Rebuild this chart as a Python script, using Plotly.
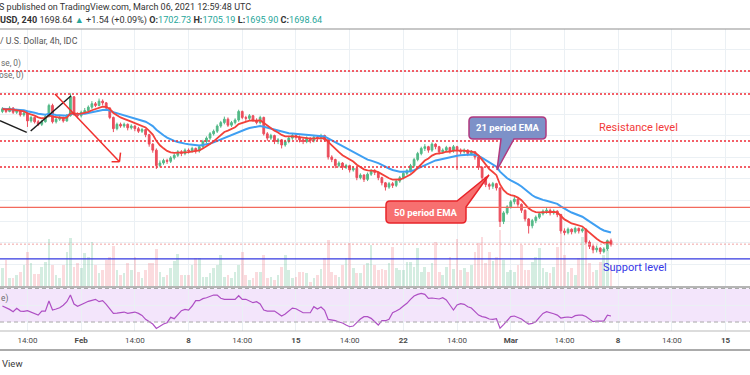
import plotly.graph_objects as go
import pandas as pd

# ---------------- data (XAUUSD 4h) ----------------
closes = [1856, 1853, 1857, 1852, 1854, 1849, 1851, 1842, 1846, 1841,
          1838, 1841, 1847, 1860, 1841, 1844, 1846, 1842, 1848, 1870,
          1850, 1848, 1852, 1854, 1858, 1862, 1860, 1865, 1863, 1857,
          1846, 1833, 1838, 1836, 1838, 1834, 1836, 1833, 1830, 1832,
          1826, 1815, 1808, 1790, 1793, 1796, 1795, 1799, 1802, 1806,
          1804, 1808, 1807, 1810, 1807, 1812, 1818, 1822, 1827, 1830,
          1836, 1840, 1844, 1837, 1840, 1843, 1853, 1846, 1845, 1848,
          1843, 1840, 1846, 1827, 1822, 1825, 1818, 1820, 1814, 1818,
          1822, 1825, 1823, 1820, 1818, 1822, 1819, 1823, 1822, 1825,
          1820, 1800, 1797, 1790, 1793, 1788, 1790, 1785, 1787, 1776,
          1779, 1774, 1780, 1784, 1782, 1776, 1770, 1765, 1769, 1767,
          1772, 1776, 1781, 1784, 1790, 1797, 1804, 1810, 1812, 1808,
          1815, 1812, 1806, 1808, 1811, 1807, 1812, 1808, 1806, 1808,
          1804, 1806, 1800, 1788, 1776, 1768, 1766, 1769, 1764, 1725,
          1735, 1742, 1748, 1751, 1745, 1738, 1728, 1720, 1726, 1730,
          1734, 1737, 1738, 1735, 1737, 1733, 1714, 1712, 1716, 1713,
          1717, 1714, 1716, 1701, 1696, 1692, 1694, 1690, 1693, 1702.73,
          1698.64]
opens = [1853, 1856, 1853, 1857, 1852, 1854, 1849, 1851, 1842, 1846,
         1841, 1838, 1841, 1847, 1860, 1841, 1844, 1846, 1842, 1848,
         1870, 1850, 1848, 1852, 1854, 1858, 1862, 1860, 1865, 1863,
         1857, 1846, 1833, 1838, 1836, 1838, 1834, 1836, 1833, 1830,
         1832, 1826, 1815, 1808, 1790, 1793, 1796, 1795, 1799, 1802,
         1806, 1804, 1808, 1807, 1810, 1807, 1812, 1818, 1822, 1827,
         1830, 1836, 1840, 1844, 1837, 1840, 1843, 1853, 1846, 1845,
         1848, 1843, 1840, 1846, 1827, 1822, 1825, 1818, 1820, 1814,
         1818, 1822, 1825, 1823, 1820, 1818, 1822, 1819, 1823, 1822,
         1825, 1820, 1800, 1797, 1790, 1793, 1788, 1790, 1785, 1787,
         1776, 1779, 1774, 1780, 1784, 1782, 1776, 1770, 1765, 1769,
         1767, 1772, 1776, 1781, 1784, 1790, 1797, 1804, 1810, 1812,
         1808, 1815, 1812, 1806, 1808, 1811, 1807, 1812, 1808, 1806,
         1808, 1804, 1806, 1800, 1788, 1776, 1768, 1766, 1769, 1764,
         1725, 1735, 1742, 1748, 1751, 1745, 1738, 1728, 1720, 1726,
         1730, 1734, 1737, 1738, 1735, 1737, 1733, 1714, 1712, 1716,
         1713, 1717, 1714, 1716, 1701, 1696, 1692, 1694, 1690, 1693,
         1702.73]
highs = [1858, 1857, 1859, 1858, 1856, 1855, 1853, 1852, 1848, 1847,
         1843, 1843, 1849, 1862, 1862, 1846, 1848, 1847, 1850, 1874,
         1871, 1852, 1854, 1857, 1860, 1865, 1864, 1868, 1867, 1864,
         1858, 1847, 1840, 1840, 1840, 1839, 1838, 1837, 1835, 1834,
         1833, 1827, 1816, 1810, 1796, 1798, 1798, 1801, 1804, 1808,
         1808, 1810, 1810, 1812, 1811, 1814, 1820, 1824, 1829, 1832,
         1838, 1842, 1847, 1846, 1842, 1845, 1855, 1854, 1848, 1850,
         1849, 1845, 1848, 1847, 1829, 1827, 1826, 1822, 1821, 1820,
         1824, 1827, 1827, 1825, 1822, 1824, 1823, 1825, 1825, 1827,
         1826, 1821, 1802, 1798, 1795, 1794, 1792, 1791, 1789, 1788,
         1781, 1780, 1782, 1786, 1786, 1783, 1777, 1771, 1771, 1771,
         1774, 1778, 1783, 1786, 1792, 1799, 1806, 1812, 1815, 1813,
         1817, 1816, 1813, 1810, 1813, 1812, 1814, 1813, 1810, 1810,
         1809, 1808, 1807, 1801, 1789, 1777, 1770, 1771, 1770, 1765,
         1737, 1744, 1750, 1754, 1752, 1746, 1739, 1729, 1728, 1732,
         1736, 1739, 1741, 1740, 1739, 1738, 1734, 1717, 1718, 1717,
         1719, 1718, 1718, 1717, 1703, 1698, 1697, 1695, 1695, 1704,
         1705.19]
lows = [1851, 1851, 1852, 1850, 1850, 1847, 1847, 1835, 1840, 1839,
        1836, 1836, 1840, 1846, 1839, 1839, 1842, 1840, 1841, 1847,
        1848, 1845, 1846, 1850, 1852, 1856, 1858, 1859, 1860, 1855,
        1844, 1829, 1831, 1834, 1834, 1831, 1832, 1830, 1828, 1828,
        1823, 1812, 1805, 1786, 1788, 1791, 1792, 1793, 1797, 1800,
        1801, 1802, 1804, 1805, 1804, 1805, 1810, 1816, 1820, 1825,
        1828, 1834, 1838, 1835, 1835, 1838, 1841, 1844, 1842, 1843,
        1841, 1838, 1838, 1825, 1819, 1820, 1815, 1815, 1810, 1812,
        1816, 1820, 1820, 1817, 1815, 1816, 1816, 1817, 1819, 1820,
        1818, 1797, 1794, 1787, 1788, 1785, 1786, 1782, 1783, 1773,
        1774, 1771, 1772, 1778, 1779, 1773, 1767, 1761, 1763, 1764,
        1765, 1770, 1774, 1779, 1782, 1788, 1795, 1802, 1807, 1805,
        1806, 1809, 1803, 1804, 1806, 1804, 1805, 1785, 1803, 1804,
        1801, 1802, 1797, 1785, 1773, 1765, 1762, 1763, 1761, 1718.6,
        1722, 1733, 1740, 1745, 1742, 1735, 1725, 1711, 1717, 1723,
        1728, 1732, 1734, 1732, 1733, 1730, 1711, 1709, 1710, 1710,
        1711, 1711, 1712, 1699, 1693, 1688, 1689, 1687, 1688, 1691,
        1695.90]
volumes = [1900, 2700, 900, 900, 1200, 1500, 2200, 3500, 2400, 1300,
           1300, 2000, 2500, 4800, 2200, 1200, 900, 2200, 3500, 4900,
           2000, 2400, 1900, 3400, 3000, 4500, 2200, 1400, 1700, 2700,
           3000, 4100, 1700, 1200, 1400, 2400, 1700, 3000, 1500, 900,
           1700, 2400, 2400, 3800, 1500, 1000, 1200, 1900, 2600, 3300,
           1200, 1200, 1200, 2200, 2900, 2900, 1000, 1000, 1400, 1900,
           2200, 3200, 1000, 1200, 900, 1500, 2200, 3500, 1200, 700,
           900, 1500, 1500, 3200, 900, 1000, 700, 1200, 2000, 3200,
           1700, 900, 1000, 1500, 1500, 1400, 500, 900, 1200, 1800,
           2900, 4700, 1500, 1200, 1000, 2200, 2900, 4400, 1900, 1400,
           1400, 2200, 2400, 4200, 2200,
           1700, 1800, 1700, 2400, 4000, 1900, 1700, 1700, 2500, 2500, 2000,
           3900, 1500, 2000, 1500, 2400, 4500, 1500, 1200, 2000, 3000, 1800,
           4800, 1700, 1900, 1500, 2200, 3500, 4400, 5000, 2400, 3500, 2600,
           3000, 5700, 2700, 1500, 1700, 1500, 2200, 4200, 1700, 1700,
           2500, 3000, 3900, 1900, 1500, 1400, 2000, 4000, 5400, 3200,
           1500, 1900, 1200, 2900, 5000, 4400, 2400, 1500, 1700, 2500,
           3200, 3700, 2200]
rsi_values = [49.1, 47.5, 45.1, 42.3, 46.3, 43.1, 42.7, 43.5, 41.5, 40.3,
              38.3, 43.1, 43.0, 55.1, 44.3, 45.5, 47.1, 50.0, 54.3, 62.2,
              51.5, 48.7, 50.3, 52.7, 54.7, 55.9, 57.1, 54.3, 55.5, 51.1,
              45.5, 40.3, 40.7, 41.5, 41.9, 40.3, 41.5, 41.9, 40.3, 37.9,
              33.2, 30.0, 27.6, 22.4, 25.2, 27.6, 29.2, 35.6, 34.0, 38.3,
              43.5, 45.1, 44.3, 49.1, 55.5, 55.5, 57.9, 59.0, 60.2, 62.2,
              62.2, 58.3, 57.1, 57.1, 57.9, 57.1, 61.4, 57.1, 57.1, 55.1,
              53.1, 54.3, 51.5, 44.3, 43.1, 43.1, 43.1, 40.3, 37.2, 39.5,
              43.1, 46.7, 45.9, 43.1, 41.1, 41.1, 41.1, 48.3, 45.5, 47.9,
              44.0, 33.2, 32.8, 31.6, 30.0, 28.8, 26.4, 24.4, 25.2, 30.0,
              33.6, 36.4, 36.4, 34.4, 30.8, 26.4, 31.6, 31.6, 33.2, 41.1,
              43.1, 45.5, 49.1, 52.3, 57.1, 61.0, 63.0, 64.2, 63.0, 58.3,
              58.7, 58.3, 57.5, 59.0, 56.3, 50.3, 44.3, 50.3, 51.9, 51.1,
              48.3, 46.7, 42.3, 38.3, 36.4, 35.6, 33.6, 33.2, 34.0, 22.6,
              27.0, 31.6, 36.4, 37.2, 35.6, 33.6, 30.4, 27.6, 28.4, 30.4,
              35.6, 40.3, 42.3, 41.5, 39.9, 38.3, 34.8, 35.6, 36.0, 35.2,
              37.6, 38.3, 38.3, 36.7, 33.2, 30.4, 31.2, 31.6, 31.2, 38.3,
              37.2]
tick_bars = [7, 22, 37, 52, 67, 82, 97, 112, 127, 142, 157, 172, 187, 202]
tick_labels = ["14:00", "<b>Feb</b>", "14:00", "<b>8</b>", "14:00", "<b>15</b>",
               "14:00", "<b>22</b>", "14:00", "<b>Mar</b>", "14:00", "<b>8</b>",
               "14:00", "<b>15</b>"]
resistance_levels = [1900.0, 1873.3, 1818.6, 1788.4]
mid_level = 1741.5
support_level = 1681.4
price_grid = [1675, 1700, 1725, 1750, 1775, 1800, 1825, 1850, 1875, 1900, 1925]
# user drawings (bar index, price)
black_lines = [((-0.7, 1842.2), (6.8, 1828.7)), ((7.9, 1830.2), (19.2, 1871.3))]
red_arrow = ((14.7, 1873.3), (32.7, 1794.5))
red_arrow_head = [(30.5, 1794.5), (33.0, 1805.0)]

# ---------------- derived ----------------
bars = list(range(len(closes)))
ema_fast = pd.Series(closes).ewm(span=9, adjust=False).mean().tolist()
ema_slow = pd.Series(closes).ewm(span=21, adjust=False).mean().tolist()
GREEN, RED = "#53b987", "#eb4d5c"
vol_colors = ["rgba(83,185,135,0.25)" if c >= o else "rgba(235,77,92,0.20)"
              for o, c in zip(opens, closes)]

W, H = 750, 375
def px(x):
    return x / W
def py(y):
    return 1 - y / H

PRICE_DOM = [py(287), py(29)]
RSI_DOM = [py(331), py(287)]
XR = [-0.67, 208.83]
GRID = "#ebf0f4"
FONT = "Roboto"

fig = go.Figure()
fig.add_trace(go.Bar(x=bars, y=volumes, marker=dict(color=vol_colors, line=dict(width=0)),
                     width=0.75, xaxis="x", yaxis="y", showlegend=False))
fig.add_trace(go.Candlestick(x=bars, open=opens, high=highs, low=lows, close=closes,
                             increasing=dict(line=dict(color=GREEN, width=1), fillcolor=GREEN),
                             decreasing=dict(line=dict(color=RED, width=1), fillcolor=RED),
                             xaxis="x", yaxis="y2", showlegend=False))
fig.add_trace(go.Scatter(x=bars, y=ema_slow, mode="lines", line=dict(color="#3f9ff2", width=2),
                         xaxis="x", yaxis="y2", showlegend=False))
fig.add_trace(go.Scatter(x=bars, y=ema_fast, mode="lines", line=dict(color="#f2413a", width=1.8),
                         xaxis="x", yaxis="y2", showlegend=False))
fig.add_trace(go.Scatter(x=bars, y=rsi_values, mode="lines", line=dict(color="#ae4fc4", width=1.2),
                         xaxis="x2", yaxis="y3", showlegend=False))

shapes = []
# RSI band
shapes.append(dict(type="rect", xref="paper", yref="y3", x0=0, x1=1, y0=30, y1=70,
                   fillcolor="#f3e5fb", line=dict(width=0), layer="below"))
for lv in (30, 70):
    shapes.append(dict(type="line", xref="paper", yref="y3", x0=0, x1=1, y0=lv, y1=lv,
                       line=dict(color="#a9a9a9", width=1, dash="4px,3px")))
# level lines
for lv in resistance_levels:
    shapes.append(dict(type="line", xref="paper", yref="y2", x0=0, x1=1, y0=lv, y1=lv,
                       line=dict(color="#f02b36", width=1.6, dash="2px,2px"), layer="above"))
shapes.append(dict(type="line", xref="paper", yref="y2", x0=0, x1=1, y0=mid_level, y1=mid_level,
                   line=dict(color="#f26a5c", width=1.2), layer="above"))
shapes.append(dict(type="line", xref="paper", yref="y2", x0=0, x1=1, y0=closes[-1], y1=closes[-1],
                   line=dict(color="#f2a3a3", width=1, dash="2px,2px"), layer="above"))
shapes.append(dict(type="line", xref="paper", yref="y2", x0=0, x1=1, y0=support_level, y1=support_level,
                   line=dict(color="#3438e0", width=1.3), layer="above"))
# drawings
for (a, b) in black_lines:
    shapes.append(dict(type="line", xref="x", yref="y2", x0=a[0], y0=a[1], x1=b[0], y1=b[1],
                       line=dict(color="#1f1f1f", width=1.5)))
shapes.append(dict(type="line", xref="x", yref="y2", x0=red_arrow[0][0], y0=red_arrow[0][1],
                   x1=red_arrow[1][0], y1=red_arrow[1][1], line=dict(color="#f0302e", width=1.5)))
for hx, hy in red_arrow_head:
    shapes.append(dict(type="line", xref="x", yref="y2", x0=red_arrow[1][0], y0=red_arrow[1][1],
                       x1=hx, y1=hy, line=dict(color="#f0302e", width=1.5)))
# frame lines
for yy, col, wd in ((29, "#8f8f8f", 1.2), (287, "#b5b5b5", 2), (331, "#b9b9b9", 1), (350, "#8f8f8f", 1.5)):
    shapes.append(dict(type="line", xref="paper", yref="paper", x0=0, x1=1, y0=py(yy), y1=py(yy),
                       line=dict(color=col, width=wd)))

def P(x, y):
    return f"{px(x):.5f},{py(y):.5f}"

r = 4
b21 = (469, 117, 546, 139)
x0, y0, x1, y1 = b21
path21 = (f"M{P(x0+r,y0)} L{P(x1-r,y0)} Q{P(x1,y0)} {P(x1,y0+r)} L{P(x1,y1-r)} "
          f"Q{P(x1,y1)} {P(x1-r,y1)} L{P(514,y1)} L{P(497,170)} L{P(501,y1)} L{P(x0+r,y1)} "
          f"Q{P(x0,y1)} {P(x0,y1-r)} L{P(x0,y0+r)} Q{P(x0,y0)} {P(x0+r,y0)} Z")
shapes.append(dict(type="path", xref="paper", yref="paper", path=path21,
                   fillcolor="#7d91c8", line=dict(color="#b0397f", width=1.5), layer="above"))
b50 = (386, 201, 466, 223)
x0, y0, x1, y1 = b50
path50 = (f"M{P(x0+r,y0)} L{P(457,y0)} L{P(489,175)} L{P(x1,207)} L{P(x1,y1-r)} "
          f"Q{P(x1,y1)} {P(x1-r,y1)} L{P(x0+r,y1)} Q{P(x0,y1)} {P(x0,y1-r)} "
          f"L{P(x0,y0+r)} Q{P(x0,y0)} {P(x0+r,y0)} Z")
shapes.append(dict(type="path", xref="paper", yref="paper", path=path50,
                   fillcolor="#f77070", line=dict(color="#e8242a", width=1.5), layer="above"))

def ann(text, x, y, size, color, xanchor="left", font=FONT):
    return dict(text=text, x=px(x), y=py(y), xref="paper", yref="paper", showarrow=False,
                xanchor=xanchor, yanchor="middle", font=dict(family=font, size=size, color=color))

TEAL = "#26a69a"
hdr2 = (f"<b>USD, 240</b> {closes[-1]:.2f} <span style='color:{TEAL}'>▲</span> +1.54 (+0.09%) "
        f"<b>O:</b><span style='color:{TEAL}'>{opens[-1]:.2f}</span> "
        f"<b>H:</b><span style='color:{TEAL}'>{highs[-1]:.2f}</span> "
        f"<b>L:</b><span style='color:{TEAL}'>{lows[-1]:.2f}</span> "
        f"<b>C:</b><span style='color:{TEAL}'>{closes[-1]:.2f}</span>")
annotations = [
    ann("S published on TradingView.com, March 06, 2021 12:59:48 UTC", -3, 7, 9, "#333333"),
    ann(hdr2, -2, 20, 9.1, "#333333"),
    ann("/ U.S. Dollar, 4h, IDC", -2, 41, 8.8, "#555555"),
    ann("se, 0)", -1, 63, 8.3, "#6a6a6a"),
    ann("ose, 0)", -3, 75.5, 8.3, "#6a6a6a"),
    ann("e)", -1, 298, 8.3, "#6a6a6a"),
    ann("Resistance level", 638, 128, 11, "#f23a3a", xanchor="center"),
    ann("Support level", 635, 267.5, 11, "#3537e6", xanchor="center"),
    ann("<b>21 period EMA</b>", 507.5, 128, 9.5, "#ffffff", xanchor="center"),
    ann("<b>50 period EMA</b>", 426, 212, 9.5, "#ffffff", xanchor="center"),
    ann("View", 0, 363, 9.5, "#3a3a3a"),
]

fig.update_layout(
    width=W, height=H, autosize=False,
    margin=dict(l=0, r=0, t=0, b=0),
    paper_bgcolor="white", plot_bgcolor="white",
    showlegend=False, hovermode=False, bargap=0,
    font=dict(family=FONT, color="#4a4a4a"),
    xaxis=dict(domain=[0, 1], range=XR, anchor="y", tickvals=tick_bars, showticklabels=False,
               showgrid=True, gridcolor=GRID, gridwidth=1, zeroline=False, showline=False,
               rangeslider=dict(visible=False), fixedrange=True),
    xaxis2=dict(domain=[0, 1], range=XR, anchor="y3", matches="x", tickvals=tick_bars,
                ticktext=tick_labels, showgrid=True, gridcolor=GRID, zeroline=False,
                showline=False, ticks="", tickfont=dict(family=FONT, size=8, color="#4a4a4a"),
                ticklabelstandoff=3),
    yaxis=dict(domain=PRICE_DOM, range=[0, 25800], showgrid=False, showticklabels=False,
               zeroline=False, fixedrange=True),
    yaxis2=dict(domain=PRICE_DOM, overlaying="y", range=[1648.8, 1948.9], tickvals=price_grid,
                showgrid=True, gridcolor=GRID, showticklabels=False, zeroline=False, side="right"),
    yaxis3=dict(domain=RSI_DOM, range=[19.3, 71.8], tickvals=[50], showgrid=True, gridcolor=GRID,
                showticklabels=False, zeroline=False),
    shapes=shapes, annotations=annotations,
)
fig.write_html("out.html", config={"displayModeBar": False},
               post_script="document.body.style.margin='0';document.body.style.overflow='hidden';")
